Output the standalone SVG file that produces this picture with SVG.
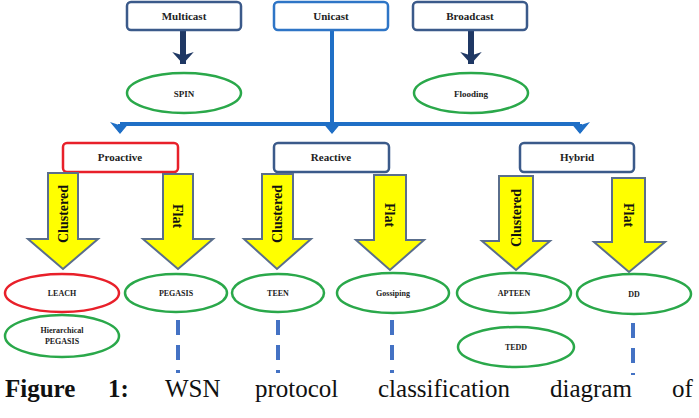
<svg xmlns="http://www.w3.org/2000/svg" width="699" height="418" viewBox="0 0 699 418">
<defs>
<style>
.box{fill:#fff;stroke:#3b5a8a;stroke-width:2.5}
.uni{stroke:#2e75c6}
.red{stroke:#e8202a}
.bt{font-family:"Liberation Serif",serif;font-weight:bold;font-size:11px;fill:#222;text-anchor:middle}
.el{fill:#fff;stroke:#2aa84a;stroke-width:2.5}
.elr{stroke:#e8202a}
.et{font-family:"Liberation Serif",serif;font-weight:bold;font-size:8px;fill:#222;text-anchor:middle}
.ya{fill:#ffff00;stroke:#5a6e8c;stroke-width:2}
.yt{font-family:"Liberation Serif",serif;font-weight:bold;font-size:14px;fill:#111;text-anchor:middle}
.navy{stroke:#1f3864;stroke-width:6;fill:none}
.blue{stroke:#1f6fc6;stroke-width:4;fill:none}
.dash{stroke:#4472c4;stroke-width:4;stroke-dasharray:15 10;fill:none}
.cap{font-family:"Liberation Serif",serif;font-size:25px;fill:#111}
</style>
<marker id="hn" markerWidth="4" markerHeight="4" refX="2" refY="2" orient="auto" markerUnits="strokeWidth"><path d="M0,0.2 L2,2 L0,3.8 L0.6,2 Z" fill="#1f3864"/></marker>
<marker id="hb" markerWidth="5" markerHeight="5" refX="2.5" refY="2.5" orient="auto" markerUnits="strokeWidth"><path d="M0,0 L3,2.5 L0,5 L0.8,2.5 Z" fill="#1f6fc6"/></marker>
</defs>

<g id="connectors">
<path class="navy" d="M183,31 V64" marker-end="url(#hn)"/>
<path class="navy" d="M471,31 V64" marker-end="url(#hn)"/>
<path class="blue" d="M332,31 V124"/>
<path class="blue" d="M120,124 H580"/>
<path class="blue" d="M120,124 V132" marker-end="url(#hb)"/>
<path class="blue" d="M332,124 V132" marker-end="url(#hb)"/>
<path class="blue" d="M580,124 V132" marker-end="url(#hb)"/>
<path class="dash" d="M178,320 V373"/>
<path class="dash" d="M278,320 V373"/>
<path class="dash" d="M392,320 V373"/>
<path class="dash" d="M633,323 V375"/>
</g>

<g id="multicast"><rect class="box" x="127" y="2" width="114" height="28" rx="4"/><text class="bt" x="184" y="20">Multicast</text></g>
<g id="unicast"><rect class="box uni" x="274" y="2" width="114" height="28" rx="4"/><text class="bt" x="331" y="20">Unicast</text></g>
<g id="broadcast"><rect class="box" x="413" y="2" width="114" height="28" rx="4"/><text class="bt" x="470" y="20">Broadcast</text></g>

<g id="spin"><ellipse class="el" cx="184" cy="93" rx="57" ry="20"/><text class="et" x="184" y="97" style="font-size:9px">SPIN</text></g>
<g id="flooding"><ellipse class="el" cx="471" cy="93" rx="57" ry="20"/><text class="et" x="471" y="97" style="font-size:9px">Flooding</text></g>

<g id="proactive"><rect class="box red" x="63" y="143" width="115" height="29" rx="4"/><text class="bt" x="120" y="161">Proactive</text></g>
<g id="reactive"><rect class="box" x="274" y="143" width="115" height="29" rx="4"/><text class="bt" x="331" y="161">Reactive</text></g>
<g id="hybrid"><rect class="box" x="520" y="143" width="114" height="29" rx="4"/><text class="bt" x="577" y="161">Hybrid</text></g>

<g id="pro-clustered"><path class="ya" d="M48,173 H78 V239 H98 L63,269 L28,239 H48 Z"/><text class="yt" transform="translate(68,214) rotate(-90)">Clustered</text></g>
<g id="pro-flat"><path class="ya" d="M163,174 H193 V239 H213 L178,269 L143,239 H163 Z"/><text class="yt" transform="translate(173,216) rotate(90)">Flat</text></g>
<g id="re-clustered"><path class="ya" d="M262,174 H293 V239 H311 L277,269 L244,239 H262 Z"/><text class="yt" transform="translate(282,214) rotate(-90)">Clustered</text></g>
<g id="re-flat"><path class="ya" d="M374,175 H406 V240 H424 L390,270 L356,240 H374 Z"/><text class="yt" transform="translate(385,215) rotate(90)">Flat</text></g>
<g id="hy-clustered"><path class="ya" d="M499,176 H533 V241 H550 L516,270 L482,241 H499 Z"/><text class="yt" transform="translate(521,218) rotate(-90)">Clustered</text></g>
<g id="hy-flat"><path class="ya" d="M612,178 H645 V242 H665 L629,272 L594,242 H612 Z"/><text class="yt" transform="translate(624,215) rotate(90)">Flat</text></g>

<g id="leach"><ellipse class="el elr" cx="62" cy="293" rx="57" ry="19"/><text class="et" x="62" y="296">LEACH</text></g>
<g id="pegasis"><ellipse class="el" cx="176" cy="293" rx="51" ry="19"/><text class="et" x="176" y="296">PEGASIS</text></g>
<g id="teen"><ellipse class="el" cx="278" cy="293" rx="46" ry="19"/><text class="et" x="278" y="296">TEEN</text></g>
<g id="gossiping"><ellipse class="el" cx="393" cy="293" rx="56" ry="20"/><text class="et" x="393" y="296">Gossiping</text></g>
<g id="apteen"><ellipse class="el" cx="514" cy="293" rx="57" ry="20"/><text class="et" x="514" y="296">APTEEN</text></g>
<g id="dd"><ellipse class="el" cx="634" cy="294" rx="57" ry="20"/><text class="et" x="634" y="297">DD</text></g>
<g id="hpegasis"><ellipse class="el" cx="62" cy="336" rx="57" ry="21"/><text class="et" x="62" y="333">Hierarchical</text><text class="et" x="62" y="344">PEGASIS</text></g>
<g id="tedd"><ellipse class="el" cx="516" cy="347" rx="58" ry="20"/><text class="et" x="516" y="350">TEDD</text></g>

<g id="caption">
<text class="cap" x="5" y="397" font-weight="bold">Figure</text>
<text class="cap" x="108" y="397" font-weight="bold">1:</text>
<text class="cap" x="165" y="397">WSN</text>
<text class="cap" x="255" y="397">protocol</text>
<text class="cap" x="378" y="397">classification</text>
<text class="cap" x="550" y="397">diagram</text>
<text class="cap" x="672" y="397">of</text>
</g>
</svg>
